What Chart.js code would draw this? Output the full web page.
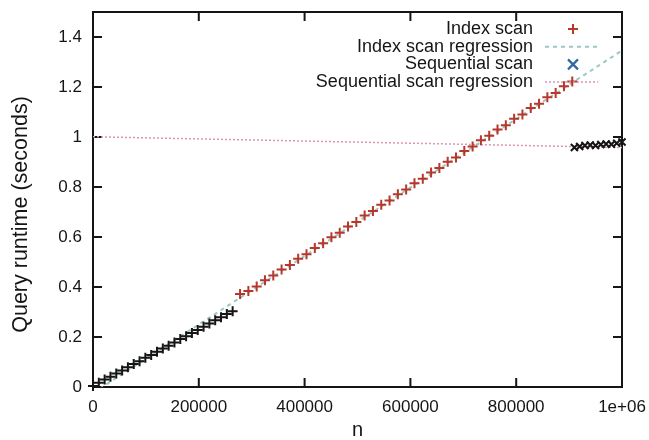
<!DOCTYPE html>
<html>
<head>
<meta charset="utf-8">
<title>Query runtime vs n</title>
<script src="https://cdn.jsdelivr.net/npm/chart.js@4.4.0/dist/chart.umd.min.js"></script>
<style>
  html, body { margin: 0; padding: 0; background: #fff; }
</style>
</head>
<body>
<canvas id="chart" width="649" height="440"></canvas>
<script>
// index scan measurements (n, seconds)
const idxN = [
  0, 11000, 22000, 33000, 44000, 55000, 66000, 77000, 88000, 99000,
  110000, 121000, 132000, 143000, 154000, 165000, 176000, 187000, 198000, 209000,
  220000, 231000, 242000, 253000, 264000,
  278000, 293700, 309400, 325100, 340800, 356500, 372200, 387900, 403600, 419300,
  435000, 450700, 466400, 482100, 497800, 513500, 529200, 544900, 560600, 576300,
  592000, 607700, 623400, 639100, 654800, 670500, 686200, 701900, 717600, 733300,
  749000, 764700, 780400, 796100, 811800, 827500, 843200, 858900, 874600, 890300,
  906000
];
const idxT = [
  0.004, 0.017, 0.030, 0.041, 0.054, 0.066, 0.079, 0.092, 0.103, 0.117,
  0.128, 0.141, 0.154, 0.165, 0.178, 0.192, 0.203, 0.216, 0.228, 0.241,
  0.254, 0.267, 0.279, 0.292, 0.303,
  0.372, 0.384, 0.402, 0.427, 0.446, 0.470, 0.488, 0.513, 0.531, 0.556,
  0.575, 0.599, 0.617, 0.642, 0.660, 0.686, 0.704, 0.729, 0.746, 0.771,
  0.790, 0.815, 0.833, 0.858, 0.876, 0.901, 0.918, 0.944, 0.962, 0.987,
  1.005, 1.030, 1.047, 1.073, 1.090, 1.116, 1.133, 1.159, 1.176, 1.203,
  1.222
];

// sequential scan measurements
const seqN = [910000, 920000, 930000, 940000, 950000, 960000, 970000, 980000, 990000, 1000000];
const seqT = [0.958, 0.962, 0.966, 0.968, 0.966, 0.970, 0.972, 0.971, 0.975, 0.980];

// fitted regression lines (end points)
const idxRegN = [0, 1000000];
const idxRegT = [-0.024, 1.346];
const seqRegN = [0, 1000000];
const seqRegT = [1.001, 0.958];

// axis ticks
const xTicks = [0, 200000, 400000, 600000, 800000, 1000000];
const xTickLabels = ["0", "200000", "400000", "600000", "800000", "1e+06"];
const yTicks = [0, 0.2, 0.4, 0.6, 0.8, 1, 1.2, 1.4];

const seriesLabels = ["Index scan", "Index scan regression", "Sequential scan", "Sequential scan regression"];
const yTitle = "Query runtime (seconds)";

const RED = "#b5382a";
const INK = "#151515";
const CYAN = "#9cc6c8";
const PINK = "#dc94b4";
const BLUE = "#2e68a6";
const FONT = '"Liberation Sans", Arial, Helvetica, sans-serif';

const toPoints = (xs, ys) => xs.map((x, i) => ({ x: x, y: ys[i] }));

// gnuplot style frame: box on all 4 sides, tick marks pointing inward
const framePlugin = {
  id: "frame",
  beforeDatasetsDraw(chart) {
    const { ctx, chartArea: a, scales } = chart;
    const len = 9;
    ctx.save();
    ctx.strokeStyle = INK;
    ctx.lineWidth = 2;
    ctx.strokeRect(a.left, a.top, a.right - a.left, a.bottom - a.top);
    ctx.beginPath();
    scales.x.ticks.forEach((t) => {
      const px = scales.x.getPixelForValue(t.value);
      ctx.moveTo(px, a.bottom); ctx.lineTo(px, a.bottom - len);
      ctx.moveTo(px, a.top); ctx.lineTo(px, a.top + len);
    });
    scales.y.ticks.forEach((t) => {
      const py = scales.y.getPixelForValue(t.value);
      ctx.moveTo(a.left, py); ctx.lineTo(a.left + len, py);
      ctx.moveTo(a.right, py); ctx.lineTo(a.right - len, py);
    });
    ctx.stroke();

    // y axis title, sits a little below the middle of the plot in the original
    ctx.fillStyle = INK;
    ctx.font = "21.5px " + FONT;
    ctx.textAlign = "center";
    ctx.textBaseline = "middle";
    ctx.translate(21, (a.top + a.bottom) / 2 + 15);
    ctx.rotate(-Math.PI / 2);
    ctx.fillText(yTitle, 0, 0);
    ctx.restore();
  }
};

// key in the top right corner: text right aligned, sample on the right
const keyPlugin = {
  id: "key",
  afterDraw(chart) {
    const { ctx, chartArea: a } = chart;
    const textRight = a.right - 89;
    const symX = a.right - 49;
    ctx.save();
    ctx.font = "18px " + FONT;
    ctx.textAlign = "right";
    ctx.textBaseline = "middle";
    seriesLabels.forEach((label, i) => {
      const y = a.top + 17 + i * 17.7;
      ctx.fillStyle = INK;
      ctx.fillText(label, textRight, y);
      ctx.beginPath();
      if (i === 0) {
        ctx.strokeStyle = RED; ctx.lineWidth = 2;
        ctx.moveTo(symX - 5, y); ctx.lineTo(symX + 5, y);
        ctx.moveTo(symX, y - 5); ctx.lineTo(symX, y + 5);
      } else if (i === 2) {
        ctx.strokeStyle = BLUE; ctx.lineWidth = 2.2;
        ctx.moveTo(symX - 5, y - 5); ctx.lineTo(symX + 5, y + 5);
        ctx.moveTo(symX - 5, y + 5); ctx.lineTo(symX + 5, y - 5);
      } else {
        ctx.strokeStyle = i === 1 ? CYAN : PINK;
        ctx.lineWidth = i === 1 ? 2 : 1.5;
        ctx.setLineDash(i === 1 ? [4, 4] : [2, 2]);
        ctx.moveTo(symX - 28, y); ctx.lineTo(symX + 25, y);
      }
      ctx.stroke();
      ctx.setLineDash([]);
    });
    ctx.restore();
  }
};

new Chart(document.getElementById("chart"), {
  type: "scatter",
  data: {
    datasets: [
      {
        label: seriesLabels[0],
        data: toPoints(idxN, idxT),
        pointStyle: "cross",
        pointRadius: 5,
        pointBorderWidth: 2,
        // the low n part of the series is printed in black in the original
        pointBorderColor: (c) => (c.raw && c.raw.x < 275000 ? INK : RED),
        clip: false,
      },
      {
        label: seriesLabels[1],
        type: "line",
        data: toPoints(idxRegN, idxRegT),
        showLine: true,
        borderColor: CYAN,
        borderWidth: 2,
        borderDash: [4, 4],
        pointRadius: 0,
      },
      {
        label: seriesLabels[2],
        data: toPoints(seqN, seqT),
        pointStyle: "crossRot",
        pointRadius: 5,
        pointBorderWidth: 2,
        pointBorderColor: INK,
        clip: false,
      },
      {
        label: seriesLabels[3],
        type: "line",
        data: toPoints(seqRegN, seqRegT),
        showLine: true,
        borderColor: PINK,
        borderWidth: 1.5,
        borderDash: [2, 2],
        pointRadius: 0,
      },
    ],
  },
  options: {
    responsive: false,
    animation: false,
    layout: { padding: { top: 12, right: 27, left: 0, bottom: 0 } },
    plugins: {
      legend: { display: false },
      tooltip: { enabled: false },
    },
    scales: {
      x: {
        type: "linear",
        min: 0,
        max: 1000000,
        afterFit: (s) => { s.height = 53; s.paddingLeft = 0; s.paddingRight = 0; },
        afterBuildTicks: (s) => { s.ticks = xTicks.map((v) => ({ value: v })); },
        grid: { display: false, drawTicks: false },
        border: { display: false },
        ticks: {
          padding: 10,
          maxRotation: 0,
          autoSkip: false,
          color: INK,
          font: { family: FONT, size: 17 },
          callback: (v, i) => xTickLabels[i],
        },
        title: {
          display: true,
          text: "n",
          color: INK,
          font: { family: FONT, size: 20, lineHeight: 1 },
          padding: 0,
        },
      },
      y: {
        type: "linear",
        min: 0,
        max: 1.5,
        afterFit: (s) => { s.width = 93; s.paddingTop = 0; s.paddingBottom = 0; },
        afterBuildTicks: (s) => { s.ticks = yTicks.map((v) => ({ value: v })); },
        grid: { display: false, drawTicks: false },
        border: { display: false },
        ticks: {
          padding: 11,
          color: INK,
          font: { family: FONT, size: 17 },
          callback: (v) => String(v),
        },
        title: { display: false },
      },
    },
  },
  plugins: [framePlugin, keyPlugin],
});
</script>
</body>
</html>
